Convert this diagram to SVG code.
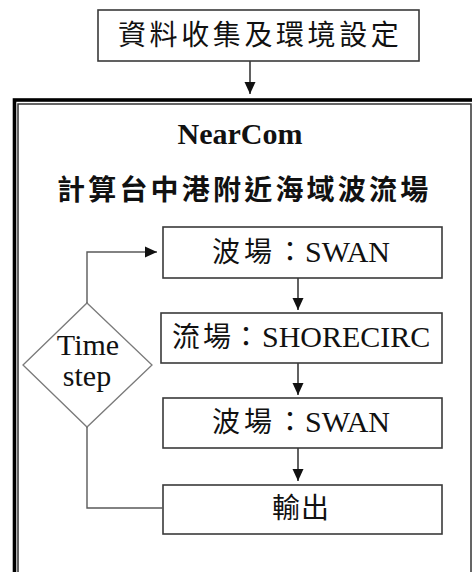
<svg xmlns="http://www.w3.org/2000/svg" width="472" height="572" viewBox="0 0 472 572">
  <defs>
    <marker id="arrow" viewBox="0 0 12 12" refX="12" refY="6" markerWidth="12" markerHeight="12" markerUnits="userSpaceOnUse" orient="auto">
      <path d="M0,0.5 L12,6 L0,11.5 Z" fill="#111"/>
    </marker>
    <style>
      .box { fill: #fff; stroke: #3a3a3a; stroke-width: 1.6; }
      .diamond { fill: #fff; stroke: #7a7a7a; stroke-width: 1.3; }
      .link { fill: none; stroke: #3a3a3a; stroke-width: 1.6; }
      .loop { fill: none; stroke: #5a5a5a; stroke-width: 1.4; }
      .cjk { font-family: "Noto Sans CJK TC", "Noto Sans CJK SC", sans-serif; font-size: 28px; fill: #111; }
      .lat { font-family: "Liberation Serif", "Times New Roman", serif; font-size: 30px; fill: #111; }
      .mid { text-anchor: middle; }
    </style>
  </defs>
  <rect width="472" height="572" fill="#fff"/>

  <!-- Outer frame: heavy outer line with a thin inner line -->
  <g id="frame">
    <rect x="14.5" y="100" width="520" height="520" fill="none" stroke="#000" stroke-width="3.6"/>
    <rect x="18" y="104" width="453" height="520" fill="none" stroke="#333" stroke-width="1.5"/>
    <text class="lat mid" x="240" y="144" font-weight="bold">NearCom</text>
    <text class="cjk" x="57 88.2 119.4 150.6 181.8 213 244.2 275.4 306.6 337.8 369 400.2" y="200" font-size="29" font-weight="bold">計算台中港附近海域波流場</text>
  </g>

  <g id="data-setup">
    <rect class="box" x="98" y="10" width="321" height="51"/>
    <text class="cjk" x="118 149.6 181.2 212.8 244.4 276 307.6 339.2 370.8" y="45" font-size="27">資料收集及環境設定</text>
  </g>

  <g id="wave-1">
    <rect class="box" x="163" y="227" width="279" height="51"/>
    <text y="262"><tspan class="cjk" x="212 244 276">波場：</tspan><tspan class="lat" x="305">SWAN</tspan></text>
  </g>

  <g id="current">
    <rect class="box" x="161" y="313" width="281" height="50"/>
    <text y="347"><tspan class="cjk" x="172 203 232">流場：</tspan><tspan class="lat" x="262">SHORECIRC</tspan></text>
  </g>

  <g id="wave-2">
    <rect class="box" x="163" y="398" width="279" height="50"/>
    <text y="432"><tspan class="cjk" x="212 244 276">波場：</tspan><tspan class="lat" x="305">SWAN</tspan></text>
  </g>

  <g id="output">
    <rect class="box" x="163" y="485" width="279" height="49"/>
    <text class="cjk" x="272 301" y="518" font-size="27">輸出</text>
  </g>

  <g id="timestep">
    <polygon class="diamond" points="87,303 152,365 87,427 23,365"/>
    <text class="lat mid" x="88" y="355" font-size="29">Time</text>
    <text class="lat mid" x="87" y="386" font-size="29">step</text>
  </g>

  <g id="connectors">
    <line class="link" x1="250" y1="61" x2="250" y2="94" marker-end="url(#arrow)"/>
    <line class="link" x1="298" y1="278" x2="298" y2="310" marker-end="url(#arrow)"/>
    <line class="link" x1="298" y1="363" x2="298" y2="395" marker-end="url(#arrow)"/>
    <line class="link" x1="298" y1="448" x2="298" y2="481" marker-end="url(#arrow)"/>
    <polyline class="loop" points="87,303 87,252 157,252" marker-end="url(#arrow)"/>
    <polyline class="loop" points="87,427 87,508 163,508"/>
  </g>
</svg>
